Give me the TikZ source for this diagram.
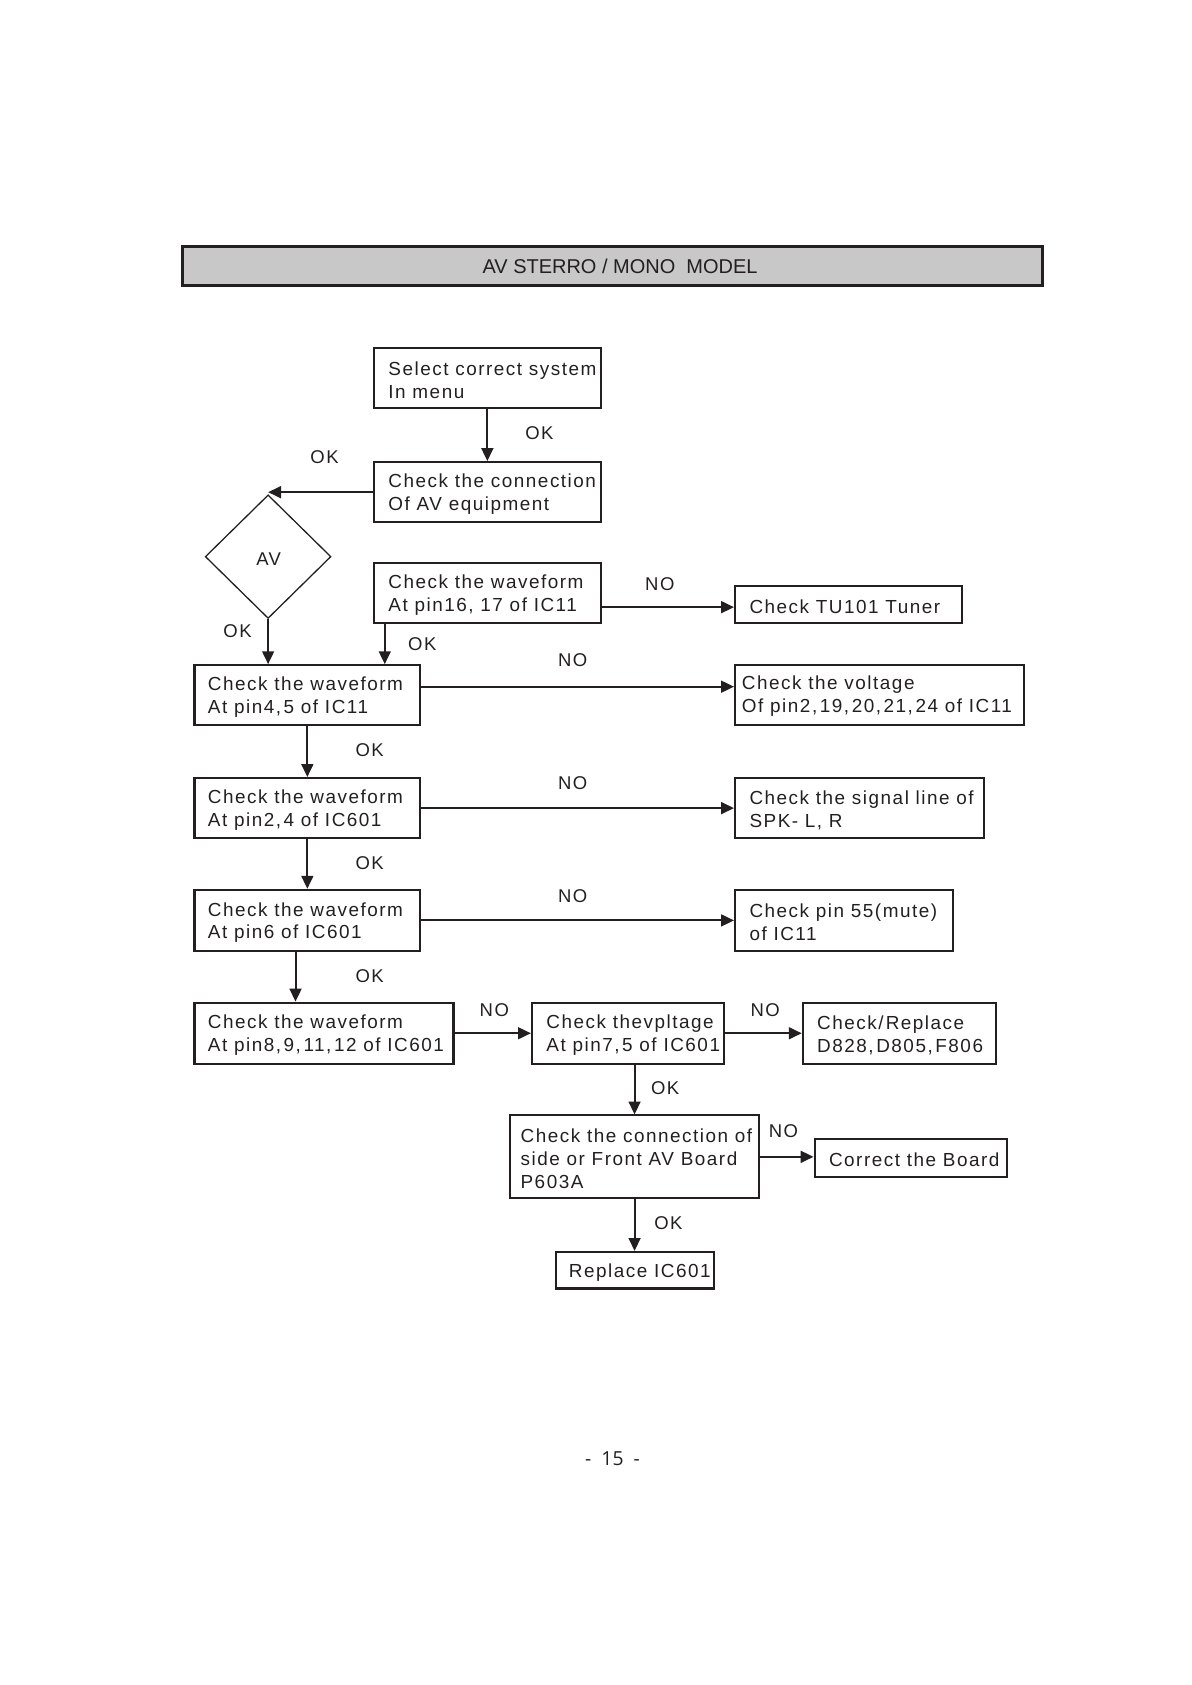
\documentclass[tikz,border=0pt]{standalone}
\usepackage{fontspec}
\setmainfont{Liberation Sans}
\newfontfamily\boxfont[LetterSpace=8]{Liberation Sans}
\newfontfamily\pagefont{Open Sans}
\usetikzlibrary{shapes.geometric,arrows.meta}
\definecolor{ink}{HTML}{231F20}
\definecolor{barfill}{HTML}{C8C8C8}
\newcommand{\cma}{,\kern1.2pt}
\begin{document}
\begin{tikzpicture}[x=0.5pt,y=-0.5pt,
  box/.style={draw=ink,line width=0.95pt,inner sep=0pt,minimum height=28pt},
  txt/.style={anchor=west,align=left,inner sep=0pt,yshift=-1pt,text=ink,font=\boxfont\fontsize{8.8}{10.6}\selectfont},
  lbl/.style={inner sep=0pt,text=ink,font=\boxfont\fontsize{8.6}{10.5}\selectfont},
  arr/.style={draw=ink,line width=0.95pt,-{Triangle[length=6pt,width=5.5pt]}},
  decision/.style={diamond,draw=ink,line width=0.6pt,inner sep=0pt,minimum width=58.5pt,minimum height=57.5pt}]
\useasboundingbox (0,0) rectangle (1109,1568);
% title bar
\node[draw=ink,fill=barfill,line width=1.4pt,minimum width=400pt,minimum height=18.5pt,inner sep=0pt] (title) at (570,247.5) {};
\node[inner sep=0pt,text=ink,font=\fontsize{9.3}{11}\selectfont] (titletxt) at (577,248) {AV STERRO / MONO\ \ MODEL};
% boxes
\node[box,minimum width=105.5pt] (sel) at (453.5,352) {};
\node[txt] (selt) at ([xshift=7pt]sel.west) {Select correct system\\In menu};
\node[box,minimum width=105.5pt] (conn) at (453.5,458) {};
\node[txt] (connt) at ([xshift=7pt]conn.west) {Check the connection\\Of AV equipment};
\node[decision] (dia) at (249.5,518) {};
\node[lbl] (diat) at (250,520) {AV};
\node[box,minimum width=105.5pt] (wf16) at (453.5,552) {};
\node[txt] (wf16t) at ([xshift=7pt]wf16.west) {Check the waveform\\At pin16,\ 17 of IC11};
\node[box,minimum width=105.5pt,minimum height=17.5pt] (tu) at (789.5,562.5) {};
\node[txt] (tut) at ([xshift=7pt]tu.west) {Check TU101 Tuner};
\node[box,minimum width=105pt] (wf45) at (286,647) {};
\node[txt] (wf45t) at ([xshift=6.5pt]wf45.west) {Check the waveform\\At pin4\cma 5 of IC11};
\node[box,minimum width=134.5pt] (volt) at (818.5,647) {};
\node[txt] (voltt) at ([xshift=3.5pt,yshift=0.5pt]volt.west) {Check the voltage\\Of pin2\cma 19\cma 20\cma 21\cma 24 of IC11};
\node[box,minimum width=105pt] (wf24) at (286,752) {};
\node[txt] (wf24t) at ([xshift=6.5pt]wf24.west) {Check the waveform\\At pin2\cma 4 of IC601};
\node[box,minimum width=116pt] (sig) at (800,752) {};
\node[txt] (sigt) at ([xshift=7pt]sig.west) {Check the signal line of\\SPK- L, R};
\node[box,minimum width=105pt,minimum height=28.5pt] (wf6) at (286,856.5) {};
\node[txt] (wf6t) at ([xshift=6.5pt]wf6.west) {Check the waveform\\At pin6 of IC601};
\node[box,minimum width=101.5pt,minimum height=28.5pt] (p55) at (785.5,856.5) {};
\node[txt] (p55t) at ([xshift=7pt]p55.west) {Check pin 55(mute)\\of IC11};
\node[box,minimum width=120.5pt,minimum height=28.5pt] (wf8) at (301.5,961.5) {};
\node[txt] (wf8t) at ([xshift=6.5pt]wf8.west) {Check the waveform\\At pin8\cma 9\cma 11\cma 12 of IC601};
\node[box,minimum width=89.5pt,minimum height=28.5pt] (vp) at (584.5,961.5) {};
\node[txt] (vpt) at ([xshift=7pt]vp.west) {Check thevpltage\\At pin7\cma 5 of IC601};
\node[box,minimum width=90pt,minimum height=28.5pt] (chk) at (837,961.5) {};
\node[txt] (chkt) at ([xshift=7pt]chk.west) {Check/\kern1pt Replace\\D828\cma D805\cma F806};
\node[box,minimum width=115.5pt,minimum height=38.5pt] (side) at (590.5,1076.5) {};
\node[txt] (sidet) at ([xshift=5pt]side.west) {Check the connection of\\side or Front AV Board\\P603A};
\node[box,minimum width=89.5pt,minimum height=17.5pt] (corr) at (847.5,1077.5) {};
\node[txt] (corrt) at ([xshift=7pt]corr.west) {Correct the Board};
\node[box,minimum width=73.5pt,minimum height=17pt] (repl) at (590.5,1182) {};
\node[txt] (replt) at ([xshift=6.5pt]repl.west) {Replace IC601};
% connectors
\draw[arr] (sel.south) -- (conn.north);
\draw[arr] (conn.west) -- (conn.west -| dia.north);
\draw[arr] (dia.south) -- (dia.south |- wf45.north);
\coordinate (w16b) at ([xshift=5.5pt]wf16.south west);
\draw[arr] (w16b) -- (w16b |- wf45.north);
\coordinate (tuin) at ([yshift=-1.25pt]tu.west);
\draw[arr] (tuin -| wf16.east) -- (tuin);
\draw[arr] ([yshift=4pt]wf45.east) -- ([yshift=4pt]volt.west);
\draw[arr] (wf45.south) -- (wf24.north);
\draw[arr] (wf24.east) -- (sig.west);
\draw[arr] (wf24.south) -- (wf6.north);
\draw[arr] (wf6.east) -- (p55.west);
\coordinate (w6b) at ([xshift=-5.5pt]wf6.south);
\draw[arr] (w6b) -- (w6b |- wf8.north);
\draw[arr] (wf8.east) -- (vp.west);
\draw[arr] (vp.east) -- (chk.west);
\draw[arr] (side.north |- vp.south) -- (side.north);
\draw[arr] (side.east) -- (side.east -| corr.west);
\draw[arr] (side.south) -- (repl.north);
% labels
\node[lbl] (ok1) at (502,403) {OK};
\node[lbl] (ok2) at (302,425) {OK};
\node[lbl] (ok3) at (221,587) {OK};
\node[lbl] (ok4) at (393,599) {OK};
\node[lbl] (no1) at (614,544) {NO};
\node[lbl] (no2) at (533,614) {NO};
\node[lbl] (ok5) at (344,698) {OK};
\node[lbl] (no3) at (533,729) {NO};
\node[lbl] (ok6) at (344,803) {OK};
\node[lbl] (no4) at (533,834) {NO};
\node[lbl] (ok7) at (344,908) {OK};
\node[lbl] (no5) at (460,940) {NO};
\node[lbl] (no6) at (712,940) {NO};
\node[lbl] (ok8) at (619,1013) {OK};
\node[lbl] (no7) at (729,1053) {NO};
\node[lbl] (ok9) at (622,1138) {OK};
% page number
\node[inner sep=0pt,text=ink,font=\pagefont\fontsize{9}{11}\selectfont] (page) at (570,1357) {-\ \ 15\ \ -};
\end{tikzpicture}
\end{document}
